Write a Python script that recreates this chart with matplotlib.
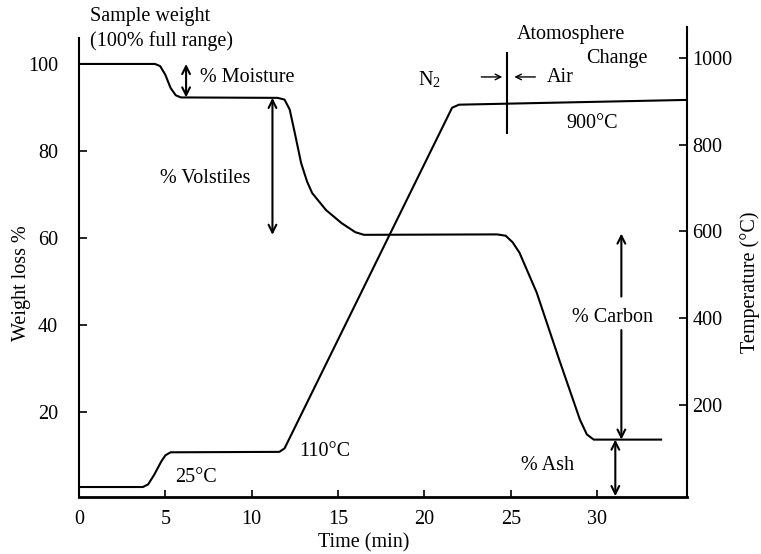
import matplotlib
matplotlib.use("Agg")
import matplotlib.pyplot as plt

plt.rcParams['font.family'] = ['Liberation Serif', 'DejaVu Serif']
plt.rcParams['mathtext.fontset'] = 'stix'

# Thermogravimetric run: sample weight (%) and furnace temperature vs time
time_w = [0, 4.4, 4.7, 5.0, 5.3, 5.6, 5.9,
          11.5, 11.9, 12.2, 12.5, 12.86, 13.2, 13.5, 14.3, 15.2, 16.0, 16.5,
          24.2, 24.7, 25.1, 25.5, 26.5, 27.8, 29.0, 29.4, 29.8, 33.7]
weight = [100, 100, 99.5, 97.5, 94.5, 92.8, 92.3,
          92.2, 91.8, 89.5, 84, 77.2, 73, 70.3, 66.4, 63.4, 61.3, 60.7,
          60.8, 60.5, 59, 56.6, 47.4, 32, 18.2, 14.8, 13.6, 13.6]

time_t = [0, 3.7, 4.0, 4.35, 4.75, 5.0, 5.3, 11.6, 11.9, 21.6, 22.0, 35.2]
temp = [11, 11, 17, 39, 69, 84, 91, 92, 100, 885, 892, 903]

x_ticks = [0, 5, 10, 15, 20, 25, 30]
w_ticks = [20, 40, 60, 80, 100]
t_ticks = [200, 400, 600, 800, 1000]

FS = 14.5
W, H = 761, 554
fig = plt.figure(figsize=(W / 100, H / 100), dpi=100)
ax = fig.add_axes([79 / W, 1 - 497 / H, (687 - 79) / W, (497 - 27) / H])
ax2 = ax.twinx()


def fx(x, y):
    return x / W, 1 - y / H


ax.plot(time_w, weight, color='black', lw=1.5)
ax2.plot(time_t, temp, color='black', lw=1.5)

ax.set_xlim(0, 35.2)
ax.set_ylim(0.4, 108.5)
ax2.set_ylim(-12, 1071)

ax.set_xticks(x_ticks)
ax.set_yticks(w_ticks)
ax2.set_yticks(t_ticks)

for s in ['top', 'right']:
    ax.spines[s].set_visible(False)
for s in ['top', 'left', 'bottom']:
    ax2.spines[s].set_visible(False)
ax.spines['left'].set_bounds(0.4, 106)
ax.spines['left'].set_linewidth(1.5)
ax.spines['bottom'].set_linewidth(2.0)
ax2.spines['right'].set_linewidth(1.5)

ax.tick_params(axis='x', direction='in', length=5, width=1.2, pad=9, labelsize=FS)
ax.tick_params(axis='y', direction='in', length=6, width=1.2, pad=15, labelsize=FS)
ax2.tick_params(axis='y', direction='in', length=6, width=1.2, pad=4, labelsize=FS)

# axis titles
fig.text(*fx(364, 543), 'Time (min)', ha='center', va='center', fontsize=FS)
fig.text(*fx(22, 283), 'Weight loss %', ha='center', va='center', rotation=90, fontsize=FS)
fig.text(*fx(750, 282), 'Temperature (°C)', ha='center', va='center', rotation=90, fontsize=FS)

# labels
fig.text(*fx(90, 17), 'Sample weight', ha='left', va='center', fontsize=FS)
fig.text(*fx(90, 41), '(100% full range)', ha='left', va='center', fontsize=FS)
fig.text(*fx(200, 78), '% Moisture', ha='left', va='center', fontsize=FS)
fig.text(*fx(160, 179), '% Volstiles', ha='left', va='center', fontsize=FS)
fig.text(*fx(418, 80), r'N$_{\mathregular{2}}$', ha='left', va='center', fontsize=FS)
fig.text(*fx(547, 77), 'Air', ha='left', va='center', fontsize=FS)
fig.text(*fx(517, 35), 'Atomosphere', ha='left', va='center', fontsize=FS)
fig.text(*fx(648, 58), 'Change', ha='right', va='center', fontsize=FS)
fig.text(*fx(592, 123), '900°C', ha='center', va='center', fontsize=FS)
fig.text(*fx(613, 317), '% Carbon', ha='center', va='center', fontsize=FS)
fig.text(*fx(548, 466), '% Ash', ha='center', va='center', fontsize=FS)
fig.text(*fx(196, 478), '25°C', ha='center', va='center', fontsize=FS)
fig.text(*fx(325, 452), '110°C', ha='center', va='center', fontsize=FS)

# arrows (data coords of the weight axis)
arr = dict(arrowstyle='->', color='black', lw=1.5, shrinkA=0, shrinkB=0,
           mutation_scale=14)
darr = dict(arrowstyle='<->', color='black', lw=1.5, shrinkA=0, shrinkB=0,
            mutation_scale=14)


def tw(x, y):
    return (x - 80) / 17.26, (499 - y) / 4.35


ax.annotate('', xy=(6.2, 100), xytext=(6.2, 92.3), arrowprops=darr)
ax.annotate('', xy=(11.2, 92.2), xytext=(11.2, 60.7), arrowprops=darr)
ax.annotate('', xy=(31.4, 61.0), xytext=(31.4, 46.5), arrowprops=arr)
ax.annotate('', xy=(31.4, 13.6), xytext=(31.4, 38.8), arrowprops=arr)
ax.annotate('', xy=(31.05, 13.6), xytext=(31.05, 0.6), arrowprops=darr)

# atmosphere switch marker
ax.plot([24.8, 24.8], [84.1, 102.5], color='black', lw=1.5)
ax.annotate('', xy=tw(503, 77), xytext=tw(482, 77), arrowprops=dict(arr, lw=1.0, mutation_scale=10))
ax.annotate('', xy=tw(515, 77), xytext=tw(536, 77), arrowprops=dict(arr, lw=1.0, mutation_scale=10))

fig.savefig('out.png', dpi=100, facecolor='white')
